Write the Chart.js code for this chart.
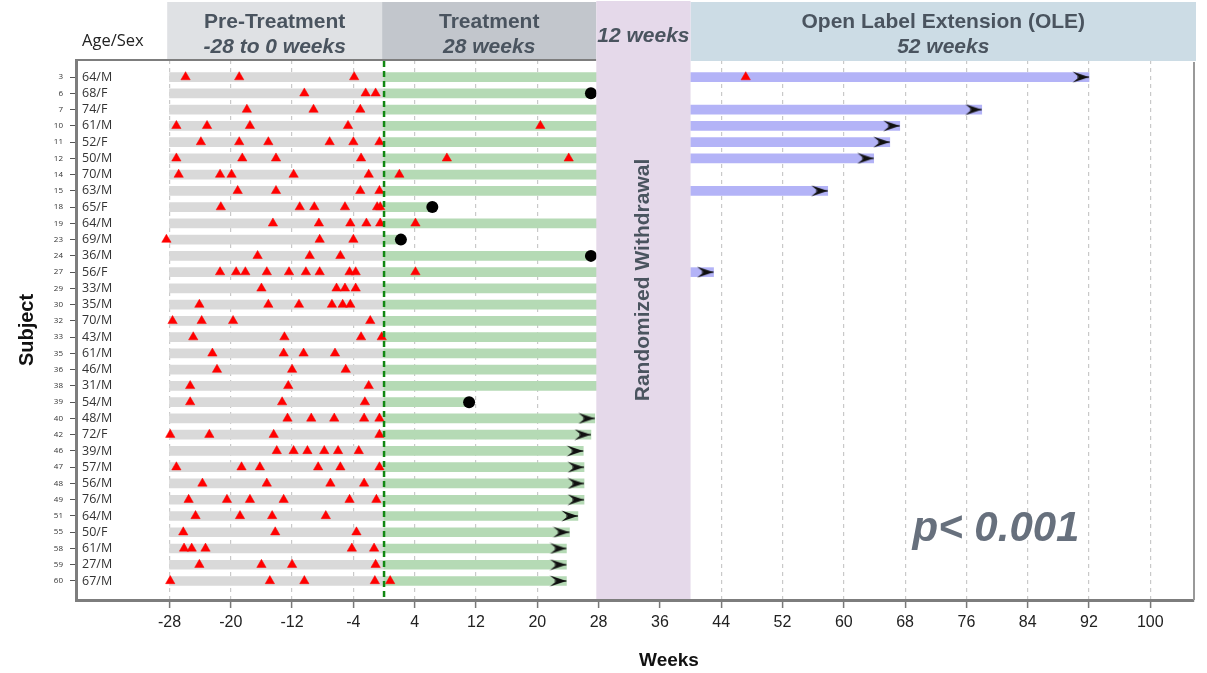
<!DOCTYPE html>
<html>
<head>
<meta charset="utf-8">
<script src="https://cdn.jsdelivr.net/npm/chart.js@4.4.1/dist/chart.umd.min.js"></script>
<style>
  html, body { margin: 0; padding: 0; background: #ffffff; }
  canvas { display: block; }
</style>
</head>
<body>
<canvas id="swimmer" width="1207" height="673"></canvas>
<script>
// ---- Subjects (one row each, top to bottom) ----
const subjects = [3, 6, 7, 10, 11, 12, 14, 15, 18, 19, 23, 24, 27, 29, 30, 32, 33, 35, 36, 38, 39, 40, 42, 46, 47, 48, 49, 51, 55, 58, 59, 60];
const ageSex = ['64/M', '68/F', '74/F', '61/M', '52/F', '50/M', '70/M', '63/M', '65/F', '64/M', '69/M', '36/M', '56/F', '33/M', '35/M', '70/M', '43/M', '61/M', '46/M', '31/M', '54/M', '48/M', '72/F', '39/M', '57/M', '56/M', '76/M', '64/M', '50/F', '61/M', '27/M', '67/M'];

// ---- Study periods (weeks) ----
const preTreatmentStart = -28;
const treatmentStart = 0;
const withdrawalStart = 27.7;
const oleStart = 40;

// Last week on blinded treatment for each subject
const treatmentEnd = [28, 27, 28, 28, 28, 28, 28, 28, 6.3, 28, 2.2, 27, 28, 28, 28, 28, 28, 28, 28, 28, 11.1, 27.5, 27.0, 26.0, 26.1, 26.1, 26.1, 25.3, 24.2, 23.8, 23.8, 23.8];
// 'R' = entered randomized withdrawal, 'D' = discontinued, 'O' = ongoing
const treatmentOutcome = ['R', 'D', 'R', 'R', 'R', 'R', 'R', 'R', 'D', 'R', 'D', 'D', 'R', 'R', 'R', 'R', 'R', 'R', 'R', 'R', 'D', 'O', 'O', 'O', 'O', 'O', 'O', 'O', 'O', 'O', 'O', 'O'];
// Last week in the open label extension (null = not enrolled)
const oleEnd = [92, null, 78, 67.3, 66, 63.9, null, 57.9, null, null, null, null, 43, null, null, null, null, null, null, null, null, null, null, null, null, null, null, null, null, null, null, null];

// Attack events (weeks) for each subject
const attackWeeks = [
  [-25.9, -18.9, -3.9, 47.2],
  [-10.4, -2.4, -1.1],
  [-17.9, -9.2, -3.1],
  [-27.1, -23.1, -17.5, -4.7, 20.4],
  [-23.9, -18.9, -15.1, -7.1, -4.0, -0.6],
  [-27.1, -18.5, -14.1, -3.0, 8.2, 24.1],
  [-26.8, -21.4, -19.9, -11.8, -2.0, 2.0],
  [-19.1, -14.1, -3.1, -0.6],
  [-21.3, -11.0, -9.1, -5.1, -0.9, -0.5],
  [-14.5, -8.5, -4.4, -2.3, -0.5, 4.1],
  [-28.4, -8.4, -4.0],
  [-16.5, -9.7, -5.7],
  [-21.4, -19.3, -18.1, -15.3, -12.4, -10.2, -8.4, -4.5, -3.7, 4.1],
  [-16.0, -6.2, -5.1, -3.7],
  [-24.1, -15.1, -11.1, -6.8, -5.4, -4.4],
  [-27.6, -23.8, -19.7, -1.8],
  [-24.9, -13.0, -3.0, -0.3],
  [-22.4, -13.1, -10.5, -6.4],
  [-21.8, -12.0, -5.0],
  [-25.3, -12.5, -2.0],
  [-25.3, -13.3, -2.5],
  [-12.6, -9.5, -6.5, -2.6, -0.6],
  [-27.9, -22.8, -14.4, -0.6],
  [-14.0, -11.8, -10.0, -7.8, -6.0, -3.3],
  [-27.1, -18.6, -16.2, -8.6, -5.7, -0.6],
  [-23.7, -15.3, -7.0, -2.6],
  [-25.5, -20.5, -17.5, -13.1, -4.5, -1.0],
  [-24.6, -18.8, -14.6, -7.6],
  [-26.2, -14.2, -3.6],
  [-26.1, -25.1, -23.3, -4.2, -1.3],
  [-24.1, -16.0, -12.0, -1.1],
  [-27.9, -14.9, -10.4, -1.2, 0.8]
];

// ---- Axis ----
const weekTicks = [-28, -20, -12, -4, 4, 12, 20, 28, 36, 44, 52, 60, 68, 76, 84, 92, 100];
const weekRange = [-40.2, 105.7];

// ---- Header panels ----
const phaseHeaders = [
  { from: -28.3, to: -0.25, fill: '#dfe1e4', lines: ['Pre-Treatment', '-28 to 0 weeks'] },
  { from: -0.25, to: 27.7, fill: '#c2c6cc', lines: ['Treatment', '28 weeks'] },
  { from: 40.0, to: null, fill: '#ccdce5', lines: ['Open Label Extension (OLE)', '52 weeks'] }
];

const pValueText = 'p< 0.001';

// Arrowhead marker: tip lies at the centre of the canvas so the point value is the tip.
function makeArrowHead() {
  const w = 17, h = 12;
  const c = document.createElement('canvas');
  c.width = w * 2;
  c.height = h;
  const g = c.getContext('2d');
  g.fillStyle = '#111111';
  g.beginPath();
  g.moveTo(0.5, 0.5);
  g.lineTo(w, h / 2);
  g.lineTo(0.5, h - 0.5);
  g.lineTo(w * 0.42, h / 2);
  g.closePath();
  g.fill();
  g.strokeStyle = '#111111';
  g.lineWidth = 1.2;
  g.beginPath();
  g.moveTo(w * 0.3, h / 2);
  g.lineTo(w, h / 2);
  g.stroke();
  return c;
}
const arrowHead = makeArrowHead();

// ---- Build datasets from the arrays ----
const preBars = subjects.map((s, i) => ({ x: [preTreatmentStart, treatmentStart], y: i }));
const trtBars = subjects.map((s, i) => ({ x: [treatmentStart, treatmentEnd[i]], y: i }));
const oleBars = [];
subjects.forEach((s, i) => { if (oleEnd[i] != null) oleBars.push({ x: [oleStart, oleEnd[i]], y: i }); });

const attackPoints = [];
attackWeeks.forEach((weeks, i) => weeks.forEach(w => attackPoints.push({ x: w, y: i })));

const discontinuedPoints = [];
const ongoingPoints = [];
subjects.forEach((s, i) => {
  if (treatmentOutcome[i] === 'D') discontinuedPoints.push({ x: treatmentEnd[i], y: i });
  if (treatmentOutcome[i] === 'O') ongoingPoints.push({ x: treatmentEnd[i], y: i });
  if (oleEnd[i] != null) ongoingPoints.push({ x: oleEnd[i], y: i });
});

const TEXT_DARK = '#4a545f';

const decorPlugin = {
  id: 'swimmerDecor',
  afterDatasetsDraw(chart) {
    const { ctx, chartArea } = chart;
    const xs = chart.scales.x;
    const ys = chart.scales.y;
    ctx.save();

    // top and right frame
    ctx.strokeStyle = '#7d7d7d';
    ctx.lineWidth = 2;
    ctx.beginPath();
    ctx.moveTo(chartArea.left, chartArea.top);
    ctx.lineTo(xs.getPixelForValue(withdrawalStart), chartArea.top);
    ctx.stroke();
    ctx.strokeStyle = '#999999';
    ctx.beginPath();
    ctx.moveTo(chartArea.right, chartArea.top + 2);
    ctx.lineTo(chartArea.right, chartArea.bottom);
    ctx.stroke();

    // phase header panels
    phaseHeaders.forEach(h => {
      const x0 = xs.getPixelForValue(h.from);
      const x1 = h.to == null ? chartArea.right + 2 : xs.getPixelForValue(h.to);
      ctx.fillStyle = h.fill;
      ctx.fillRect(x0, 2, x1 - x0, chartArea.top - 1 - 2 + (h.to == null ? 2 : 0));
      const cx = (x0 + x1) / 2;
      ctx.fillStyle = TEXT_DARK;
      ctx.textAlign = 'center';
      ctx.textBaseline = 'alphabetic';
      ctx.font = 'bold 21px "Liberation Sans", Arial, sans-serif';
      ctx.fillText(h.lines[0], cx, 28);
      ctx.font = 'italic bold 21px "Liberation Sans", Arial, sans-serif';
      ctx.fillText(h.lines[1], cx, 53);
    });

    // randomized withdrawal band
    const rw0 = xs.getPixelForValue(withdrawalStart);
    const rw1 = xs.getPixelForValue(oleStart);
    ctx.fillStyle = '#e5d9ea';
    ctx.fillRect(rw0, 1, rw1 - rw0, chartArea.bottom - 2);
    ctx.fillStyle = TEXT_DARK;
    ctx.font = 'italic bold 21px "Liberation Sans", Arial, sans-serif';
    ctx.textAlign = 'center';
    ctx.fillText('12 weeks', (rw0 + rw1) / 2, 42);
    ctx.save();
    ctx.translate((rw0 + rw1) / 2, 280);
    ctx.rotate(-Math.PI / 2);
    ctx.font = 'bold 21px "Liberation Sans", Arial, sans-serif';
    ctx.textBaseline = 'middle';
    ctx.fillText('Randomized Withdrawal', 0, 0);
    ctx.restore();

    // treatment start line
    const x0 = xs.getPixelForValue(treatmentStart);
    ctx.strokeStyle = '#118811';
    ctx.lineWidth = 2.5;
    ctx.setLineDash([6, 4]);
    ctx.beginPath();
    ctx.moveTo(x0, chartArea.top + 1);
    ctx.lineTo(x0, chartArea.bottom);
    ctx.stroke();
    ctx.setLineDash([]);

    // age / sex column
    ctx.fillStyle = '#222222';
    ctx.textAlign = 'left';
    ctx.textBaseline = 'alphabetic';
    ctx.font = '16.5px "Open Sans", Arial, sans-serif';
    ctx.fillText('Age/Sex', 82, 46);
    ctx.fillStyle = '#333333';
    ctx.font = '12.5px "Open Sans", Arial, sans-serif';
    ctx.textBaseline = 'middle';
    ageSex.forEach((t, i) => ctx.fillText(t, 82, ys.getPixelForValue(i)));

    // significance note
    ctx.fillStyle = '#67707d';
    ctx.font = 'italic bold 42px "Liberation Sans", Arial, sans-serif';
    ctx.textAlign = 'center';
    ctx.textBaseline = 'alphabetic';
    ctx.fillText(pValueText, 996, 541);

    // x-axis title
    ctx.fillStyle = '#111111';
    ctx.font = 'bold 19px "Liberation Sans", Arial, sans-serif';
    ctx.textBaseline = 'middle';
    ctx.fillText('Weeks', 669, 661);

    ctx.restore();
  }
};

new Chart(document.getElementById('swimmer'), {
  type: 'bar',
  data: {
    datasets: [
      {
        type: 'scatter', label: 'Attack', data: attackPoints, order: 0,
        pointStyle: 'triangle', radius: 5.4, backgroundColor: '#ff0000', borderColor: '#ff0000', borderWidth: 0.5
      },
      {
        type: 'scatter', label: 'Discontinued', data: discontinuedPoints, order: 1,
        pointStyle: 'circle', radius: 6, backgroundColor: '#000000', borderColor: '#000000', borderWidth: 0
      },
      {
        type: 'scatter', label: 'Ongoing', data: ongoingPoints, order: 2,
        pointStyle: arrowHead, radius: 8
      },
      { label: 'OLE', data: oleBars, order: 5, backgroundColor: '#b3b3f7' },
      { label: 'Treatment', data: trtBars, order: 6, backgroundColor: '#b5dab5' },
      { label: 'Pre-Treatment', data: preBars, order: 7, backgroundColor: '#d9d9d9' }
    ]
  },
  options: {
    indexAxis: 'y',
    responsive: false,
    animation: false,
    events: [],
    layout: { padding: { top: 60, right: 13, left: 0, bottom: 0 } },
    datasets: { bar: { grouped: false, barThickness: 9, borderWidth: 0, borderSkipped: false } },
    plugins: { legend: { display: false }, tooltip: { enabled: false } },
    scales: {
      x: {
        type: 'linear',
        position: 'bottom',
        offset: false,
        min: weekRange[0],
        max: weekRange[1],
        afterBuildTicks: s => { s.ticks = weekTicks.map(v => ({ value: v })); },
        afterFit: s => { s.height = 73; },
        ticks: {
          autoSkip: false, maxRotation: 0, padding: 5, color: '#222222',
          font: { family: '"Liberation Sans", Arial, sans-serif', size: 16 },
          callback: v => String(v)
        },
        grid: {
          offset: false,
          color: '#c9c9c9', lineWidth: 1.2, drawTicks: true, tickLength: 8,
          tickColor: '#777777', tickWidth: 1.5, tickBorderDash: []
        },
        border: { display: true, color: '#7d7d7d', width: 3, dash: [4, 4] },
        title: { display: false }
      },
      y: {
        type: 'linear',
        reverse: true,
        offset: false,
        min: -1.05,
        max: 32.17,
        afterBuildTicks: s => { s.ticks = subjects.map((id, i) => ({ value: i })); },
        afterFit: s => { s.width = 76; },
        ticks: {
          autoSkip: false, padding: 7, color: '#333333',
          font: { family: '"Open Sans", Arial, sans-serif', size: 8 },
          callback: v => (subjects[v] !== undefined ? String(subjects[v]) : '')
        },
        grid: { offset: false, drawOnChartArea: false, drawTicks: true, tickLength: 6, tickColor: '#555555', tickWidth: 1 },
        border: { display: true, color: '#7d7d7d', width: 3 },
        title: {
          display: true, text: 'Subject', color: '#111111',
          font: { family: '"Liberation Sans", Arial, sans-serif', size: 20, weight: 'bold' },
          padding: { top: 15, bottom: 0 }
        }
      }
    }
  },
  plugins: [decorPlugin]
});
</script>
</body>
</html>
